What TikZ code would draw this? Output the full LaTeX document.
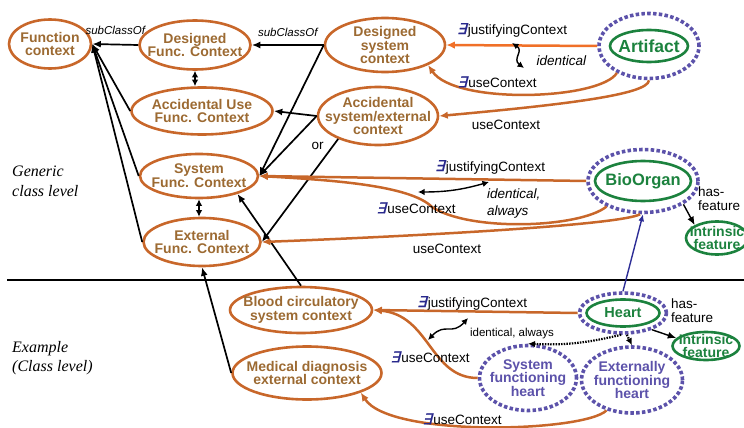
\documentclass[tikz,border=0pt]{standalone}
\usepackage{fontspec}
\setmainfont{Liberation Sans}
\newfontfamily\timesit{Liberation Serif}
\newfontfamily\symfont[FakeSlant=0.25,FakeBold=1.2]{DejaVu Sans}
\usetikzlibrary{shapes.geometric,arrows.meta}
\definecolor{ctxorange}{RGB}{200,103,42}
\definecolor{ctxtext}{RGB}{156,106,50}
\definecolor{justorange}{RGB}{240,112,40}
\definecolor{orggreen}{RGB}{28,130,62}
\definecolor{dotblue}{RGB}{92,82,170}
\definecolor{exblue}{RGB}{40,40,140}
\definecolor{linkblue}{RGB}{45,45,150}
\newcommand{\exq}{\textcolor{exblue}{\symfont\fontsize{15}{15}\selectfont ∃}\kern1.5pt}
\tikzset{
    ctx/.style 2 args={ellipse, draw=ctxorange, line width=2.6pt, minimum width=#1pt, minimum height=#2pt, inner sep=0pt},
    org/.style 2 args={ellipse, draw=orggreen, line width=2.6pt, minimum width=#1pt, minimum height=#2pt, inner sep=0pt},
    role/.style 2 args={ellipse, draw=dotblue, line width=3.6pt, dash pattern=on 3.5pt off 2.3pt, minimum width=#1pt, minimum height=#2pt, inner sep=0pt},
    ctxname/.style={text=ctxtext, font=\bfseries\fontsize{14}{13.8}\selectfont, align=center},
    orgname/.style={text=orggreen, font=\bfseries\fontsize{#1}{13.8}\selectfont, align=center},
    orgname/.default=14,
    rolename/.style={text=dotblue, font=\bfseries\fontsize{14}{13.6}\selectfont, align=center},
    sub/.style={line width=1.7pt, -{Latex[length=8.5pt,width=7pt]}},
    dbl/.style={line width=1.7pt, {Latex[length=6.5pt,width=6.5pt]}-{Latex[length=6.5pt,width=6.5pt]}},
    use/.style={draw=ctxorange, line width=2.5pt, -{Latex[length=8.5pt,width=7.5pt]}},
    dotarrow/.style={line width=2.2pt, dash pattern=on 1.5pt off 1.2pt, -{Latex[length=7pt,width=6.5pt]}},
    rel/.style={font=\fontsize{13.5}{14}\selectfont},
    subl/.style={font=\itshape\fontsize{11.5}{12}\selectfont},
    level/.style={font=\timesit\itshape\fontsize{16}{19.5}\selectfont, align=left, inner sep=0pt}
}
\begin{document}
\begin{tikzpicture}[x=1pt, y=-1pt]
        \useasboundingbox (0,0) rectangle (744,428);
        \node[ctx={82}{49}, label={[ctxname]center:{Function\\context}}] (fc) at (50,44) {};
        \node[ctx={111}{49}, label={[ctxname]center:{Designed\\Func. Context}}] (dfc) at (195,45) {};
        \node[ctx={141}{47}, label={[ctxname]center:{Accidental Use\\Func. Context}}] (auf) at (202,111) {};
        \node[ctx={118}{44}, label={[ctxname]center:{System\\Func. Context}}] (sfc) at (199,176) {};
        \node[ctx={117}{48}, label={[ctxname]center:{External\\Func. Context}}] (efc) at (202,242) {};
        \node[ctx={120}{54}, label={[ctxname]center:{Designed\\system\\context}}] (dsc) at (385,45) {};
        \node[ctx={120}{58}, label={[ctxname]center:{Accidental\\system/external\\context}}] (asc) at (378,116) {};
        \node[ctx={142}{46}, label={[ctxname]center:{Blood circulatory\\system context}}] (bcs) at (301,310) {};
        \node[ctx={149}{53}, label={[ctxname]center:{Medical diagnosis\\external context}}] (mde) at (307,373) {};

        \node[role={100}{65}] (art) at (649,46) {};
        \node[org={78}{32}, label={[orgname=17.5]center:Artifact}] (artin) at (art) {};
        \node[role={110}{63}] (bio) at (643,181) {};
        \node[org={96}{40}, label={[orgname=16.5]center:BioOrgan}] (bioin) at (bio) {};
        \node[org={62}{33}, label={[orgname]center:{Intrinsic\\feature}}] (if1) at (717,238) {};
        \node[role={87}{40}] (hrt) at (623,313) {};
        \node[org={73}{27}, label={[orgname=14.5]center:Heart}] (hrtin) at (hrt) {};
        \node[org={67}{28}, label={[orgname]center:{Intrinsic\\feature}}] (if2) at (706,346) {};
        \node[role={97}{65}, label={[rolename]center:{System\\functioning\\heart}}] (sfh) at (528,378) {};
        \node[role={101}{66}, label={[rolename]center:{Externally\\functioning\\heart}}] (efh) at (632,380) {};

        \node[level, anchor=north west] (gen) at (12,166) {Generic\\class level};
        \node[level, anchor=north west] (exa) at (12,341) {Example\\(Class level)};
        \draw[line width=1.8pt] (7,280) -- (744,280);

        \draw[sub] (dfc.west) -- node[above=6pt, subl]{subClassOf} (fc.east);
        \draw[sub] (auf.west) -- (fc.east);
        \draw[sub] (sfc.west) -- (fc.east);
        \draw[sub] (efc.west) -- (fc.east);
        \draw[sub] (dsc.west) -- node[above=4pt, subl]{subClassOf} (dfc.east);
        \draw[sub] (dsc.west) -- (sfc.east);
        \draw[sub] (asc.west) -- (auf.east);
        \draw[sub] (asc.west) -- (sfc.east);
        \draw[sub] (asc.-150) -- node[pos=0.07, left=5pt, rel]{or} (efc.east);
        \draw[sub] (bcs.north) -- (sfc.-25);
        \draw[sub] (mde.west) -- (efc.south);
        \draw[dbl] (dfc.south) -- (dfc.south |- auf.north);
        \draw[dbl] (sfc.south) -- (sfc.south |- efc.north);

        \draw[use, draw=justorange, -{Latex[length=8.5pt,width=7.5pt,fill=justorange]}] (art.west) -- (dsc.east);
        \node[rel] (artjl) at (512,30) {\exq justifyingContext};
        \coordinate (idt1) at (512,43);
        \coordinate (idt2) at (524,68);
        \draw[dbl, line width=1.4pt] (idt1) .. controls (524,51) and (512,59) .. (idt2);
        \node[rel, font=\itshape\fontsize{13.5}{14}\selectfont, anchor=west] (idtl) at (533,61) {identical};
        \draw[use] (art.-140) .. controls (600,100) and (455,105) .. (dsc.-25);
        \node[rel] (artul) at (497,82) {\exq useContext};
        \draw[use] (art.south) .. controls (648,95) and (560,105) .. (asc.east);
        \node[rel] (artal) at (506,125) {useContext};

        \draw[use] (bio.west) -- (sfc.east);
        \node[rel] (biojl) at (490,167) {\exq justifyingContext};
        \draw[use] (bio.-145) .. controls (580,228) and (470,232) .. (432,207) .. controls (410,185) and (330,180) .. (sfc.east);
        \node[rel] (bioul) at (416,208) {\exq useContext};
        \coordinate (ida1) at (418,192);
        \coordinate (ida2) at (489,182);
        \draw[dbl, line width=1.4pt] (ida1) to[bend right=8] (ida2);
        \node[font=\itshape\fontsize{13.5}{17}\selectfont, align=left, anchor=north west, inner sep=0pt] (idal) at (487,189) {identical,\\always};
        \draw[use] (bio.-95) .. controls (620,225) and (420,236) .. (efc.east);
        \node[rel] (bioel) at (447,249) {useContext};
        \draw[sub, line width=1.4pt] (bio.-30) -- (if1.150);
        \node[rel, align=left, anchor=north west, inner sep=0pt] (hf1) at (698,187) {has-\\feature};

        \draw[line width=1.4pt, draw=linkblue, -{Latex[length=7pt,width=6pt]}] (hrt.north) -- (bio.south);
        \draw[use] (hrt.west) -- (bcs.east);
        \node[rel] (hrtjl) at (472,303) {\exq justifyingContext};
        \draw[use] (sfh.west) .. controls (430,378) and (430,315) .. (bcs.east);
        \node[rel] (hrtul) at (430,357) {\exq useContext};
        \coordinate (idb1) at (428,340);
        \coordinate (idb2) at (468,318);
        \draw[dbl, line width=1.4pt] (idb1) .. controls (445,322) and (452,336) .. (idb2);
        \node[font=\fontsize{11.5}{12}\selectfont] (idbl) at (512,334) {identical, always};
        \draw[dotarrow] (hrt.-95) to[bend left=8] (sfh.north);
        \draw[dotarrow] (hrt.-80) -- (efh.north);
        \draw[sub, line width=1.4pt] (hrt.-30) -- (if2.165);
        \node[rel, align=left, anchor=north west, inner sep=0pt] (hf2) at (671,299) {has-\\feature};
        \draw[use] (efh.-130) .. controls (585,432) and (390,438) .. (mde.-20);
        \node[rel] (efhl) at (462,419) {\exq useContext};
\end{tikzpicture}
\end{document}
